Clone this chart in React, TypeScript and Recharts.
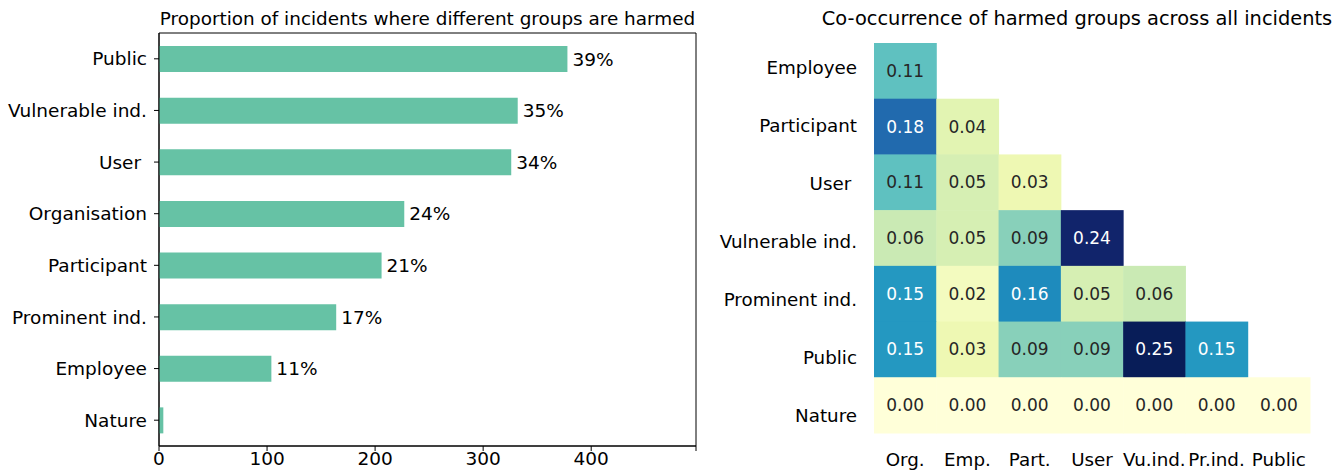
import { BarChart, Bar, XAxis, YAxis, LabelList, ReferenceArea, ScatterChart, Scatter } from 'recharts'

// harmed-group counts (bar chart, top to bottom)
const groups = ['Public', 'Vulnerable ind.', 'User\u00a0', 'Organisation', 'Participant', 'Prominent ind.', 'Employee', 'Nature']
const incidentCounts = [378, 332, 326, 227, 206, 164, 104, 4]
const totalIncidents = 960
const countTicks = [0, 100, 200, 300, 400, 497]

// co-occurrence matrix, lower triangle
const rowGroups = ['Employee', 'Participant', 'User\u00a0', 'Vulnerable ind.', 'Prominent ind.', 'Public', 'Nature']
const colGroups = ['Org.', 'Emp.', 'Part.', 'User', 'Vu.ind.', 'Pr.ind.', 'Public']
const employeeRow = [0.11]
const participantRow = [0.18, 0.04]
const userRow = [0.11, 0.05, 0.03]
const vulnerableRow = [0.06, 0.05, 0.09, 0.24]
const prominentRow = [0.15, 0.02, 0.16, 0.05, 0.06]
const publicRow = [0.15, 0.03, 0.09, 0.09, 0.25, 0.15]
const natureRow = [0, 0, 0, 0, 0, 0, 0]
const matrixRows = [employeeRow, participantRow, userRow, vulnerableRow, prominentRow, publicRow, natureRow]

const FONT = 'DejaVu Sans, sans-serif'
const BAR_COLOR = '#66c2a5'
const LABEL_SIZE = 18.5
const CELL_SIZE = 17

const barData = groups.map((name, i) => ({
  name,
  count: incidentCounts[i],
  pct: Math.round((incidentCounts[i] / totalIncidents) * 100),
}))

const cells = matrixRows.flatMap((vals, r) => vals.map((value, c) => ({ row: r, col: c, value })))
const vmax = Math.max(...cells.map(d => d.value))

// YlGnBu
const ylgnbu = ['#ffffd9', '#edf8b1', '#c7e9b4', '#7fcdbb', '#41b6c4', '#1d91c0', '#225ea8', '#253494', '#081d58']

function hexToRgb(h: string) {
  return [1, 3, 5].map(i => parseInt(h.slice(i, i + 2), 16))
}

function cmap(v: number) {
  const t = Math.max(0, Math.min(1, v / vmax)) * (ylgnbu.length - 1)
  const i = Math.min(Math.floor(t), ylgnbu.length - 2)
  const f = t - i
  const a = hexToRgb(ylgnbu[i])
  const b = hexToRgb(ylgnbu[i + 1])
  return a.map((x, k) => Math.round(x + (b[k] - x) * f))
}

function luminance(rgb: number[]) {
  const lin = rgb.map(c => {
    const s = c / 255
    return s <= 0.03928 ? s / 12.92 : Math.pow((s + 0.055) / 1.055, 2.4)
  })
  return 0.2126 * lin[0] + 0.7152 * lin[1] + 0.0722 * lin[2]
}

// heatmap plot box
const HM_W = 642
const HM_H = 471
const HM_MARGIN = { top: 43, right: 32, bottom: 0, left: 0 }
const HM_YAXIS_W = 174
const HM_XAXIS_H = 38
const cellW = (HM_W - HM_MARGIN.left - HM_MARGIN.right - HM_YAXIS_W) / colGroups.length
const cellH = (HM_H - HM_MARGIN.top - HM_MARGIN.bottom - HM_XAXIS_H) / rowGroups.length

function HeatCell(props: any) {
  const { cx, cy, payload } = props
  const rgb = cmap(payload.value)
  const textColor = luminance(rgb) > 0.408 ? '#262626' : '#ffffff'
  return (
    <g>
      <rect x={cx - cellW / 2} y={cy - cellH / 2} width={cellW + 0.5} height={cellH + 0.5} fill={`rgb(${rgb.join(',')})`} />
      <text x={cx} y={cy} textAnchor="middle" dominantBaseline="central" fontSize={CELL_SIZE} fill={textColor} fontFamily={FONT}>
        {payload.value.toFixed(2)}
      </text>
    </g>
  )
}

function RowTick(props: any) {
  const { x, y, payload, index } = props
  // labels sit on a slightly wider pitch than the cells
  const dy = index * 2.3 - 3
  return (
    <text x={x} y={y + dy} textAnchor="end" dominantBaseline="central" fontSize={18.3} fill="#000" fontFamily={FONT}>
      {rowGroups[payload.value]}
    </text>
  )
}

function ColTick(props: any) {
  const { x, y, payload } = props
  return (
    <text x={x} y={y} textAnchor="middle" dominantBaseline="central" fontSize={18.3} fill="#000" fontFamily={FONT}>
      {colGroups[payload.value]}
    </text>
  )
}

const titleStyle = {
  position: 'absolute' as const,
  top: 8,
  lineHeight: '22px',
  textAlign: 'center' as const,
  whiteSpace: 'nowrap' as const,
  color: '#000',
}

export default function App() {
  return (
    <div style={{ position: 'absolute', left: 0, top: 0, width: 1342, height: 471, background: '#fff', fontFamily: FONT }}>
      <div style={{ ...titleStyle, left: 159, width: 537, fontSize: 18.4 }}>Proportion of incidents where different groups are harmed</div>
      <div style={{ ...titleStyle, left: 817, width: 520, fontSize: 19.4 }}>Co-occurrence of harmed groups across all incidents</div>

      <div style={{ position: 'absolute', left: 0, top: 0 }}>
        <BarChart width={700} height={471} data={barData} layout="vertical" margin={{ top: 33, right: 4, bottom: 0, left: 0 }}>
          <XAxis
            type="number"
            domain={[0, 497]}
            ticks={countTicks}
            tickFormatter={(v: number) => (v === 497 ? '' : String(v))}
            height={25}
            tickSize={5}
            tickMargin={1}
            stroke="#000"
            tick={{ fill: '#000', fontSize: LABEL_SIZE }}
            allowDataOverflow
          />
          <YAxis
            type="category"
            dataKey="name"
            width={159}
            tickSize={5}
            tickMargin={7}
            stroke="#000"
            tick={{ fill: '#000', fontSize: LABEL_SIZE }}
            interval={0}
          />
          <ReferenceArea x1={0} x2={497} fill="none" stroke="#000" strokeWidth={1} ifOverflow="visible" />
          <Bar dataKey="count" fill={BAR_COLOR} barSize={26} isAnimationActive={false}>
            <LabelList
              dataKey="pct"
              position="right"
              offset={5}
              fill="#000"
              fontSize={LABEL_SIZE}
              formatter={(v: any) => (v >= 1 ? `${v}%` : '')}
            />
          </Bar>
        </BarChart>
      </div>

      <div style={{ position: 'absolute', left: 700, top: 0 }}>
        <ScatterChart width={HM_W} height={HM_H} margin={HM_MARGIN}>
          <XAxis
            type="number"
            dataKey="col"
            domain={[-0.5, colGroups.length - 0.5]}
            ticks={colGroups.map((_, i) => i)}
            height={HM_XAXIS_H}
            axisLine={false}
            tickLine={false}
            tickSize={0}
            tickMargin={26}
            tick={<ColTick />}
            interval={0}
          />
          <YAxis
            type="number"
            dataKey="row"
            domain={[-0.5, rowGroups.length - 0.5]}
            ticks={rowGroups.map((_, i) => i)}
            reversed
            width={HM_YAXIS_W}
            axisLine={false}
            tickLine={false}
            tickSize={0}
            tickMargin={17}
            tick={<RowTick />}
            interval={0}
          />
          <Scatter data={cells} shape={<HeatCell />} isAnimationActive={false} />
        </ScatterChart>
      </div>
    </div>
  )
}
